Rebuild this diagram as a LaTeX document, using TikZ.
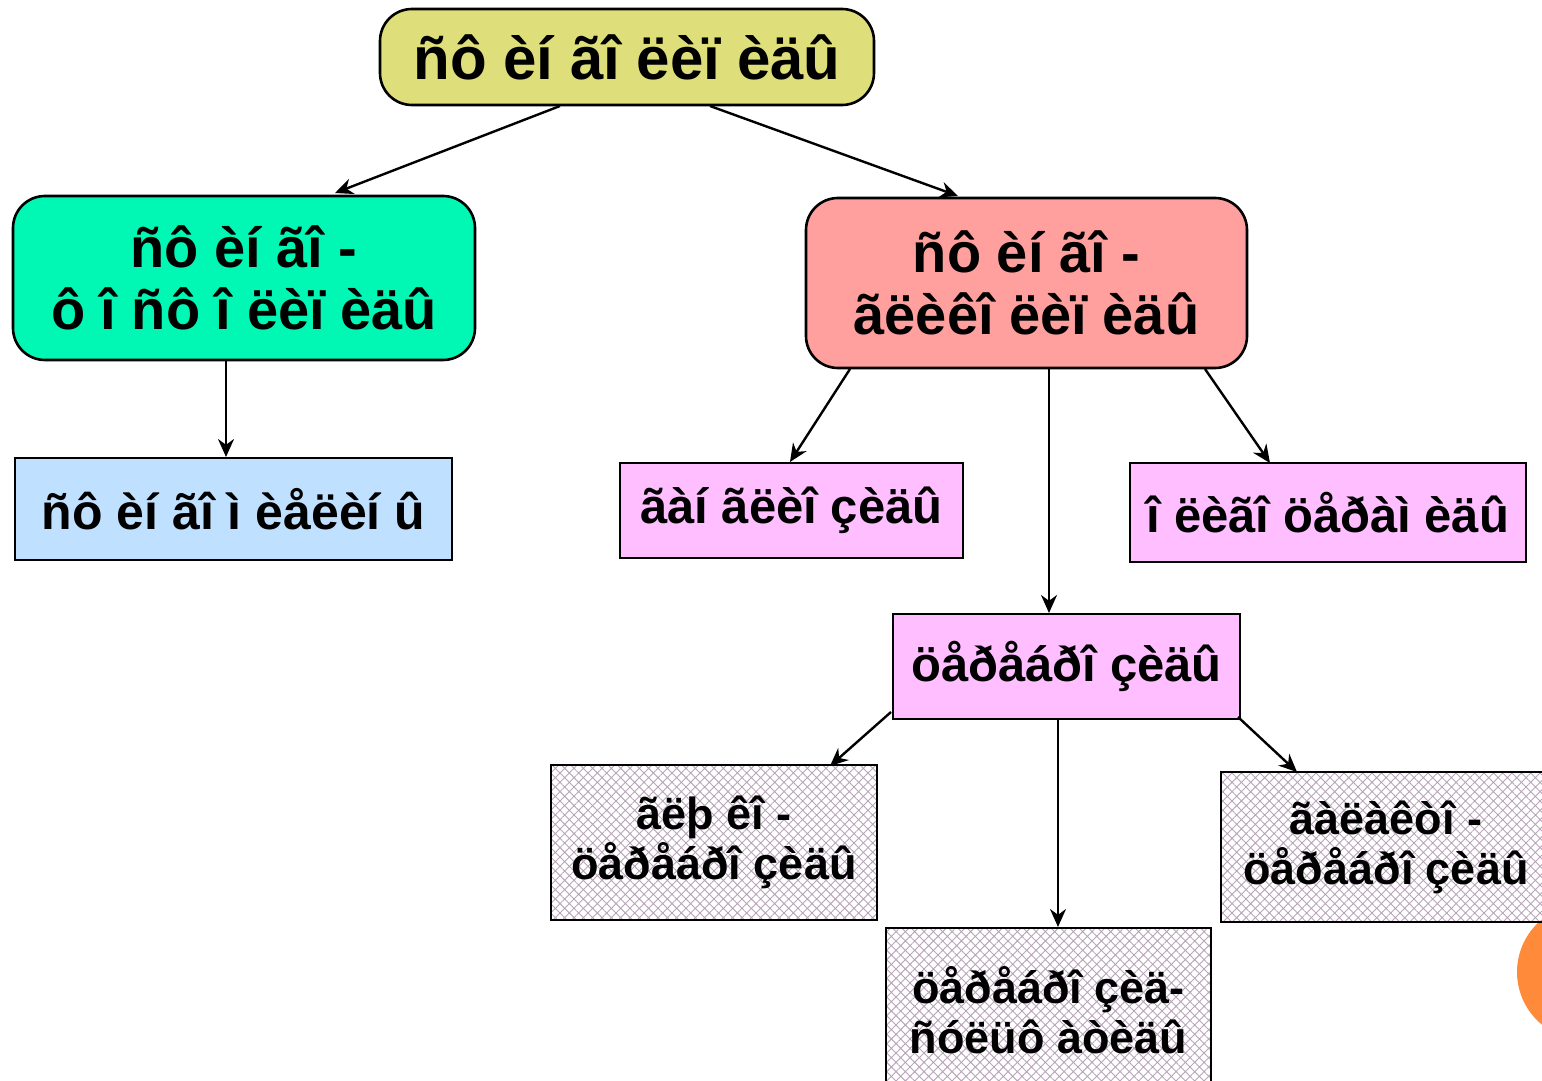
\documentclass[tikz,border=0pt]{standalone}
\usepackage{fontspec}
\setmainfont{Liberation Sans}
\usetikzlibrary{arrows.meta,patterns.meta}
\definecolor{cyel}{RGB}{222,222,122}
\definecolor{cgreen}{RGB}{0,248,180}
\definecolor{cpink}{RGB}{255,160,158}
\definecolor{cblue}{RGB}{192,224,255}
\definecolor{cmag}{RGB}{255,190,255}
\definecolor{chatch}{RGB}{185,165,185}
\definecolor{corange}{RGB}{255,138,58}
\tikzset{
  box/.style={draw=black, line width=1.3pt, inner sep=0pt, align=center},
  fbig/.style={font=\bfseries\fontsize{28}{31}\selectfont},
  fmid/.style={font=\bfseries\fontsize{24.5}{30}\selectfont},
  fsml/.style={font=\bfseries\fontsize{22.5}{25}\selectfont},
  rbox/.style={box, rounded corners=16pt, fbig},
  hbox/.style={box, fsml, pattern={Hatch[angle=45,distance=3.3pt,line width=0.45pt]}, pattern color=chatch},
  arr/.style={line width=1.2pt, -{Stealth[length=9pt,width=8pt]}}
}
\begin{document}
\begin{tikzpicture}[x=0.5pt,y=-0.5pt]
\useasboundingbox (0,0) rectangle (1542,1081);
\fill[corange] (1585,972) circle (68);
% boxes
\node[rbox, fill=cyel, minimum width=247pt, minimum height=48pt, font=\bfseries\fontsize{30}{33}\selectfont] (top) at (627,57) {ñô èí ãî ëèï èäû};
\node[rbox, fill=cgreen, minimum width=231pt, minimum height=82pt] (fos) at (244,278) {ñô èí ãî -\\ô î ñô î ëèï èäû};
\node[rbox, fill=cpink, minimum width=220.5pt, minimum height=85pt] (gli) at (1026.5,283) {ñô èí ãî -\\ãëèêî ëèï èäû};
\node[box, fmid, fill=cblue, minimum width=218.5pt, minimum height=51pt, font=\bfseries\fontsize{25}{30}\selectfont] (mie) at (233.5,509) {ñô èí ãî ì èåëèí û};
\node[box, fmid, fill=cmag, minimum width=171.5pt, minimum height=47.5pt] (gan) at (791.5,510.5) {ãàí ãëèî çèäû};
\node[box, fmid, fill=cmag, minimum width=198pt, minimum height=49.5pt] (oli) at (1328,512.5) {î ëèãî öåðàì èäû};
\node[box, fmid, fill=cmag, minimum width=173.5pt, minimum height=52.5pt] (cer) at (1066.5,666.5) {öåðåáðî çèäû};
\node[hbox, minimum width=163pt, minimum height=77.5pt] (glu) at (714,842.5) {ãëþ êî -\\öåðåáðî çèäû};
\node[hbox, minimum width=165pt, minimum height=75pt] (gal) at (1386,847) {ãàëàêòî -\\öåðåáðî çèäû};
\node[hbox, minimum width=162.5pt, minimum height=82pt] (sul) at (1048.5,1010) {öåðåáðî çèä-\\ñóëüô àòèäû};
% connectors
\coordinate (t1) at (560,106);
\coordinate (t2) at (710,106);
\draw[arr] (t1) -- (335,193);
\draw[arr] (t2) -- (958,196);
\draw[arr] (fos.south -| 226,0) -- (226,457);
\coordinate (g1) at (850,369);
\coordinate (g3) at (1205,369);
\draw[arr] (g1) -- (790,462);
\draw[arr] (gli.south -| 1049,0) -- (1049,613);
\draw[arr] (g3) -- (1270,463);
\coordinate (c1) at (891,712);
\coordinate (c3) at (1238,717);
\draw[arr] (c1) -- (830,766);
\draw[arr] (cer.south -| 1058,0) -- (1058,927);
\draw[arr] (c3) -- (1297,772);
\end{tikzpicture}
\end{document}
